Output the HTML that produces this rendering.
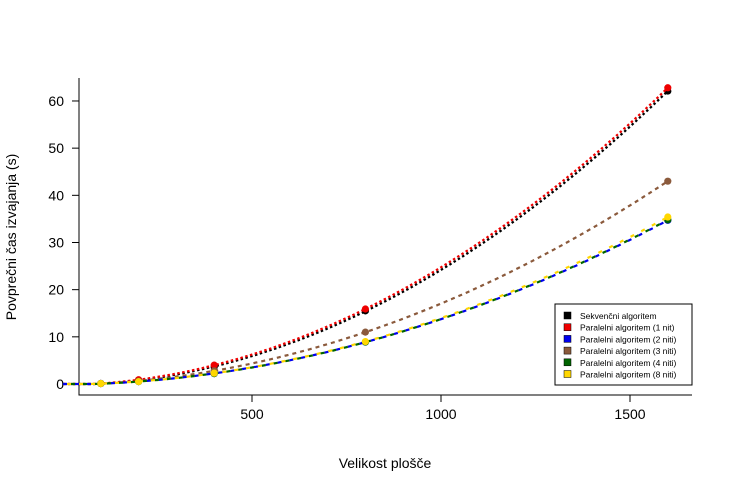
<!DOCTYPE html>
<html><head><meta charset="utf-8"><style>
body{margin:0;background:#fff}
svg text{font-family:"Liberation Sans",sans-serif}
</style></head><body>
<svg id="c" width="733" height="493" xmlns="http://www.w3.org/2000/svg">
<rect width="733" height="493" fill="#fff"/>
<g id="axes"></g><g id="series"></g><g id="legend"></g>
<text x="385" y="468" font-size="14" text-anchor="middle">Velikost plošče</text>
<text transform="translate(16,237) rotate(-90)" font-size="14" text-anchor="middle">Povprečni čas izvajanja (s)</text>
</svg>
<script>
const xs=[100,200,400,800,1600];
const seqV=[0.1,0.8,3.6,15.5,62.1];
const n1V=[0.1,0.9,4.0,15.9,62.8];
const n2V=[0.1,0.5,2.2,8.9,34.7];
const n3V=[0.1,0.6,2.8,11.0,43.0];
const n4V=[0.1,0.5,2.2,8.9,34.8];
const n8V=[0.1,0.5,2.3,9.0,35.4];
const xTicks=[500,1000,1500];
const yTicks=[0,10,20,30,40,50,60];
const names=["Sekvenčni algoritem","Paralelni algoritem (1 nit)","Paralelni algoritem (2 niti)","Paralelni algoritem (3 niti)","Paralelni algoritem (4 niti)","Paralelni algoritem (8 niti)"];
const colors=["#000000","#ee0000","#0000ee","#8b5a3c","#006400","#ffd700"];
const seriesData=[seqV,n1V,n2V,n3V,n4V,n8V];
const NS="http://www.w3.org/2000/svg";
const X=v=>63+v*0.378, Y=v=>384-v*4.717;
function mk(t,a,p){const e=document.createElementNS(NS,t);for(const k in a)e.setAttribute(k,a[k]);p.appendChild(e);return e;}
const ax=document.getElementById('axes');
let l=mk('path',{d:'M79,78V395H692',stroke:'#000',fill:'none'},ax);


xTicks.forEach(t=>{mk('line',{x1:X(t),x2:X(t),y1:395,y2:402,stroke:'#000'},ax);
 const tx=mk('text',{x:X(t),y:419,'font-size':14,'text-anchor':'middle'},ax);tx.textContent=t;
 
 });
yTicks.forEach(t=>{mk('line',{x1:72,x2:79,y1:Y(t),y2:Y(t),stroke:'#000'},ax);
 const tx=mk('text',{x:64,y:Y(t)+5,'font-size':14,'text-anchor':'end'},ax);tx.textContent=t;
 
 });
// least-squares quadratic fit through data points
function fit(vals){let S=[[0,0,0],[0,0,0],[0,0,0]],B=[0,0,0];
 xs.forEach((x,i)=>{const f=[x*x,x,1];for(let a=0;a<3;a++){B[a]+=f[a]*vals[i];for(let b=0;b<3;b++)S[a][b]+=f[a]*f[b];}});
 // gaussian elimination
 const M=S.map((r,i)=>r.concat([B[i]]));
 for(let i=0;i<3;i++){for(let j=i+1;j<3;j++){const k=M[j][i]/M[i][i];for(let c=i;c<4;c++)M[j][c]-=k*M[i][c];}}
 const r=[0,0,0];for(let i=2;i>=0;i--){let s=M[i][3];for(let c=i+1;c<3;c++)s-=M[i][c]*r[c];r[i]=s/M[i][i];}
 return x=>r[0]*x*x+r[1]*x+r[2];}
const sg=document.getElementById('series');
[0,1,3,2,4,5].forEach(si=>{const vals=seriesData[si];const f=fit(vals);
 const g=mk('g',{},sg);
 
 
 vals.forEach((v,i)=>{const c=mk('circle',{cx:X(xs[i]),cy:Y(v),r:3.6,fill:colors[si]},g);
  
  });
 let d='';for(let x=0;x<=1600;x+=10){d+=(x?'L':'M')+X(x).toFixed(1)+','+Y(Math.max(f(x),0)).toFixed(1);}
 const off={2:0,4:4,5:8}[si]||0;
 const pth=mk('path',{d:d,fill:'none',stroke:colors[si],'stroke-width':2.2,'stroke-dasharray':si==0||si==1?'2.5,2.5':(si==3?'4,4':'4,8'),'stroke-dashoffset':off},g);
 
 });
const lg=document.getElementById('legend');
const lb=mk('rect',{x:555,y:304,width:137,height:81,fill:'#fff',stroke:'#000'},lg);


names.forEach((n,i)=>{const y=316+i*11.7;
 const r=mk('rect',{x:564,y:y-4,width:7,height:7,fill:colors[i],stroke:'#000','stroke-width':0.5},lg);
 
 
 const t=mk('text',{x:580,y:y+3,'font-size':8.5},lg);t.textContent=n;
 
 });
</script>
</body></html>
